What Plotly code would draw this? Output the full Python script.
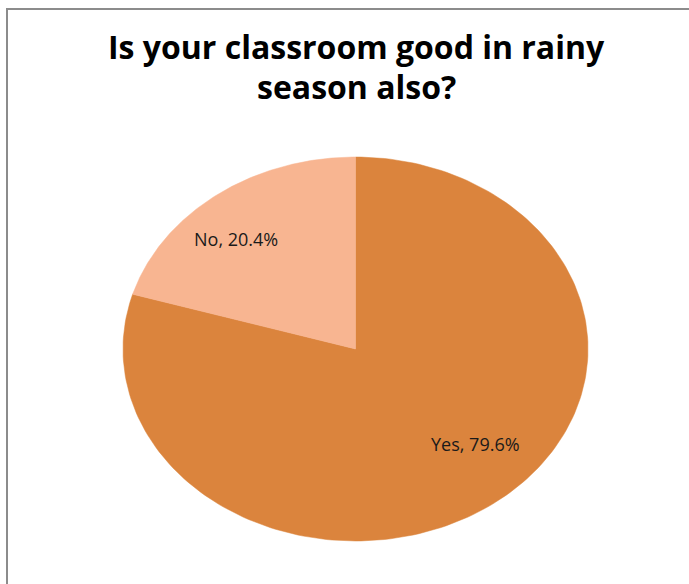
import numpy as np
import plotly.graph_objects as go

# Survey answers
categories = ["Yes", "No"]
shares = [79.6, 20.4]
colors = ["#DB843D", "#F8B591"]

title_lines = ["Is your classroom good in rainy", "season also?"]

# Page geometry (pixels)
W, H = 689, 584
cx, cy = 355.5, 349.0      # pie centre
rx, ry = 232.5, 192.0      # horizontal / vertical radius (stretched pie)
label_pos = {"Yes": (475, 444), "No": (236, 239)}

fig = go.Figure()

# Slices run clockwise starting at 12 o'clock
total = sum(shares)
start = 90.0
for cat, val, col in zip(categories, shares, colors):
    sweep = 360.0 * val / total
    ang = np.radians(np.linspace(start, start - sweep, 200))
    xs = np.concatenate([[cx], cx + rx * np.cos(ang), [cx]])
    ys = np.concatenate([[cy], cy - ry * np.sin(ang), [cy]])
    fig.add_trace(go.Scatter(
        x=xs, y=ys, mode="lines", fill="toself",
        fillcolor=col, line=dict(color=col, width=0.5),
        hoverinfo="text", text=f"{cat}, {val}%", showlegend=False,
    ))
    lx, ly = label_pos[cat]
    fig.add_annotation(
        x=lx, y=ly, xref="x", yref="y", text=f"{cat}, {val}%",
        showarrow=False, font=dict(family="Open Sans", size=18, color="#1a1a1a"),
    )
    start -= sweep

# Two-line title
for line, ty in zip(title_lines, [46, 86]):
    fig.add_annotation(
        x=356, y=ty, xref="x", yref="y", text=line, showarrow=False,
        font=dict(family="Open Sans", size=32, color="#000000", weight="bold"),
    )

# Chart area border
fig.add_shape(type="rect", xref="x", yref="y", x0=7, y0=9, x1=W + 20, y1=H + 20,
              line=dict(color="#8c8c8c", width=2), fillcolor="rgba(0,0,0,0)")

fig.update_xaxes(range=[0, W], visible=False, fixedrange=True)
fig.update_yaxes(range=[H, 0], visible=False, fixedrange=True)
fig.update_layout(
    width=W, height=H, margin=dict(l=0, r=0, t=0, b=0),
    paper_bgcolor="white", plot_bgcolor="white",
)

fig.write_html("out.html")
